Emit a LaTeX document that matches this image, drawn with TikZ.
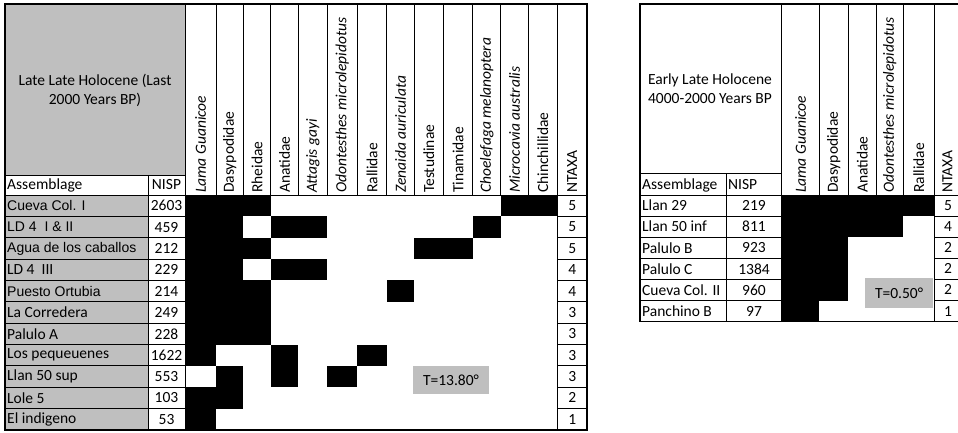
\documentclass[tikz,border=0pt]{standalone}
\usepackage{fontspec}
\setmainfont{Carlito}
\newfontfamily\arialfont{Liberation Sans}
\newcommand{\arl}[1]{{\arialfont\fontsize{14}{17}\selectfont #1}}
\definecolor{cellgray}{RGB}{191,191,191}

\begin{document}
\begin{tikzpicture}[x=1pt, y=-1pt, font=\fontsize{15.5}{19}\selectfont,
    grid/.style = {line width=0.8pt},
    frame/.style = {line width=1.4pt},
    head/.style = {rotate=90, anchor=west, inner sep=0pt},
    site/.style = {anchor=west, inner sep=0pt},
    tbox/.style = {fill=cellgray, minimum width=76pt, minimum height=28pt}]
\useasboundingbox (0,0) rectangle (958,433);
\clip (0,0) rectangle (958,433);

% left table: Late Late Holocene
\fill[cellgray] (5,4) rectangle (185,175);
\fill[cellgray] (5,195) rectangle (148,430);
\foreach \r/\xa/\xb in {1/185/270.7, 1/500.7/557.3, 2/185/243.3, 2/270.7/327.3,
    2/472.7/500.7, 3/185/270.7, 3/414.3/472.7, 4/185/243.3, 4/270.7/327.3,
    5/185/270.7, 5/386.7/414.3, 6/185/270.7, 7/185/270.7, 8/185/216,
    8/270.7/298.3, 8/357.3/386.7, 9/216/243.3, 9/270.7/298.3, 9/327.3/357.3,
    10/185/243.3, 11/185/216}
  \fill (\xa,{195+(\r-1)*21.36}) rectangle (\xb,{195+\r*21.36});
\foreach \x in {216,243.3,270.7,298.3,327.3,357.3,386.7,414.3,443.3,472.7,500.7,528.3}
  \draw[grid] (\x,4) -- (\x,195);
\foreach \r in {1,...,10} {
  \draw[grid] (5,{195+\r*21.36}) -- (185,{195+\r*21.36});
  \draw[grid] (557.3,{195+\r*21.36}) -- (587,{195+\r*21.36});
}
\draw[grid] (5,175) -- (185,175);
\draw[grid] (5,195) -- (587,195);
\draw[grid] (148,175) -- (148,430);
\draw[grid] (185,4) -- (185,430);
\draw[grid] (557.3,4) -- (557.3,430);
\draw[frame] (5,4) rectangle (587,430);

\node[align=center] (titleL) at (95,90) {Late Late Holocene (Last\\2000 Years BP)};
\node[site] (asmL) at (7,185) {Assemblage};
\node (nispL) at (166.5,185) {NISP};
\foreach \x/\lab [count=\i] in {200.5/\textit{Lama Guanicoe}, 229.7/Dasypodidae,
    257/Rheidae, 284.5/Anatidae, 312.8/\textit{Attagis gayi},
    342.3/\textit{Odontesthes microlepidotus}, 372/Rallidae,
    400.5/\textit{Zenaida auriculata}, 428.8/Testudinae, 458/Tinamidae,
    486.7/\textit{Choelefaga melanoptera}, 514.5/\textit{Microcavia australis},
    542.8/Chinchillidae, 572.2/NTAXA}
  \node[head] (taxL\i) at (\x,193) {\lab};
\foreach \lab/\nisp/\nt [count=\r] in {\arl{Cueva Col. I}/2603/5,
    \arl{LD 4\ \ I \& II}/459/5, \arl{Agua de los caballos}/212/5,
    LD 4\ \ III/229/4, \arl{Puesto Ortubia}/214/4, La Corredera/249/3,
    Palulo A/228/3, Los pequeuenes/1622/3, Llan 50 sup/553/3,
    Lole 5/103/2, El indigeno/53/1} {
  \node[site] (siteL\r) at (7,{195+(\r-0.5)*21.36}) {\lab};
  \node (nispL\r) at (166.5,{195+(\r-0.5)*21.36}) {\nisp};
  \node (ntL\r) at (572.2,{195+(\r-0.5)*21.36}) {\nt};
}
\node[tbox] (tL) at (451,380) {T=13.80°};

% right table: Early Late Holocene
\foreach \r/\xb in {1/934.3, 2/903.3, 3/848.3, 4/848.3, 5/848.3, 6/819.3}
  \fill (781.7,{195+(\r-1)*21.1}) rectangle (\xb,{195+\r*21.1});
\foreach \x in {819.3,848.3,876,903.3}
  \draw[grid] (\x,4) -- (\x,195);
\foreach \r in {1,...,5} {
  \draw[grid] (640,{195+\r*21.1}) -- (781.7,{195+\r*21.1});
  \draw[grid] (934.3,{195+\r*21.1}) -- (966,{195+\r*21.1});
}
\draw[grid] (640,173) -- (781.7,173);
\draw[grid] (640,195) -- (966,195);
\draw[grid] (726,173) -- (726,321.7);
\draw[grid] (781.7,4) -- (781.7,321.7);
\draw[grid] (934.3,4) -- (934.3,321.7);
\draw[frame] (640,4) rectangle (966,321.7);

\node[align=center] (titleR) at (710,89) {Early Late Holocene\\4000-2000 Years BP};
\node[site] (asmR) at (642,185) {Assemblage};
\node[site] (nispR) at (728,185) {NISP};
\foreach \x/\lab [count=\i] in {800.5/\textit{Lama Guanicoe}, 833.8/Dasypodidae,
    862.2/Anatidae, 889.7/\textit{Odontesthes microlepidotus}, 918.8/Rallidae,
    947.5/NTAXA}
  \node[head] (taxR\i) at (\x,193) {\lab};
\foreach \lab/\nisp/\nt [count=\r] in {Llan 29/219/5, Llan 50 inf/811/4,
    Palulo B/923/2, Palulo C/1384/2, Cueva Col. II/960/2, Panchino B/97/1} {
  \node[site] (siteR\r) at (642,{195+(\r-0.5)*21.1}) {\lab};
  \node (nispR\r) at (754,{195+(\r-0.5)*21.1}) {\nisp};
  \node (ntR\r) at (948,{195+(\r-0.5)*21.1}) {\nt};
}
\node[tbox, minimum width=68pt, minimum height=30pt] (tR) at (899,293) {T=0.50°};
\end{tikzpicture}
\end{document}
